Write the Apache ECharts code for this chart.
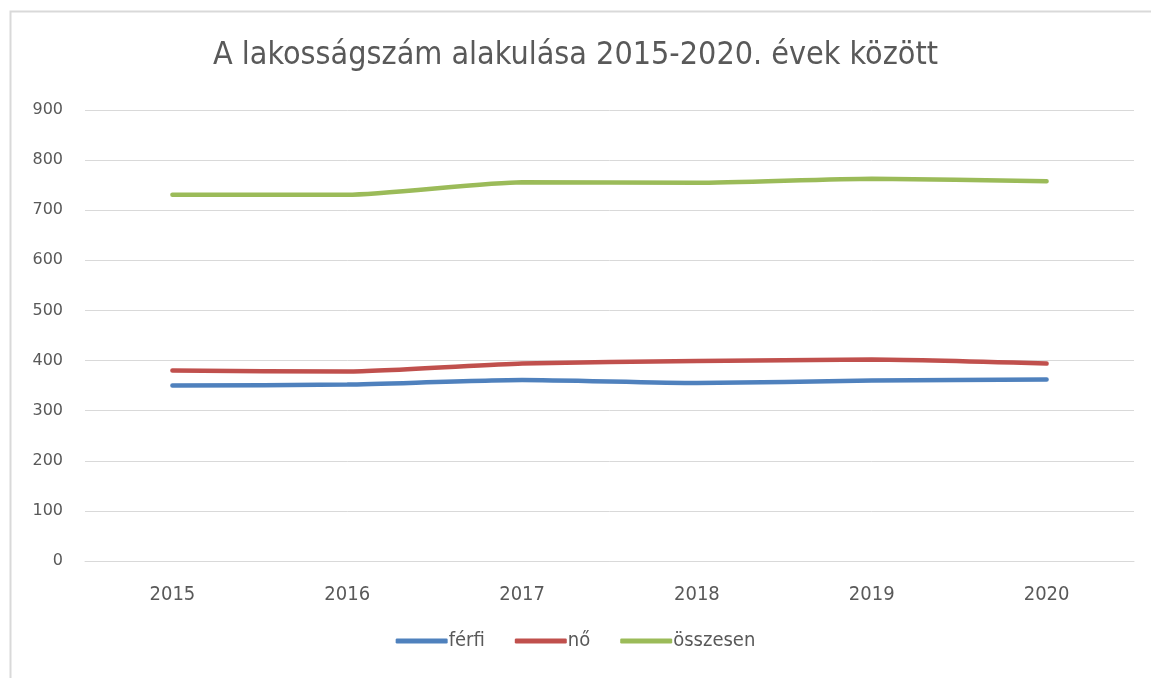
<!DOCTYPE html>
<html>
<head>
<meta charset="utf-8">
<script src="https://cdn.jsdelivr.net/npm/echarts@6/dist/echarts.min.js"></script>
<style>
html,body{margin:0;padding:0;background:#fff;}
#chart{width:1151px;height:678px;}
</style>
</head>
<body>
<div id="chart"></div>
<script>
var categories = ['2015','2016','2017','2018','2019','2020'];
var ferfi = [350, 352, 361, 355, 360, 362];
var no = [380, 378, 394, 399, 402, 394];
var osszesen = [731, 731, 756, 755, 763, 758];
var seriesNames = ['férfi', 'nő', 'összesen'];
var yTicks = {min: 0, max: 900, interval: 100};

var FONT = '"DejaVu Sans Condensed", "Liberation Sans", sans-serif';
var chart = echarts.init(document.getElementById('chart'));
chart.setOption({
  animation: false,
  backgroundColor: '#fff',
  graphic: [{
    type: 'rect', left: 8, top: 9, silent: true,
    shape: {x: 0, y: 0, width: 1200, height: 700},
    style: {fill: 'none', stroke: '#d9d9d9', lineWidth: 2}
  }],
  title: {
    text: 'A lakosságszám alakulása 2015-2020. évek között',
    left: 'center', top: 35,
    textStyle: {fontFamily: FONT, fontSize: 32, fontWeight: 'normal', color: '#595959'}
  },
  grid: {left: 85, right: 17, top: 110, bottom: 117},
  legend: {
    bottom: 22, left: 'center',
    itemWidth: 52, itemHeight: 5, itemGap: 30,
    icon: 'roundRect',
    textStyle: {fontFamily: FONT, fontSize: 20, color: '#595959', padding: [0, 0, 0, -4]},
    data: seriesNames
  },
  xAxis: {
    type: 'category', data: categories, boundaryGap: true,
    axisLine: {lineStyle: {color: '#d9d9d9', width: 1}},
    axisTick: {show: false},
    axisLabel: {fontFamily: FONT, fontSize: 20, color: '#595959', margin: 24}
  },
  yAxis: {
    type: 'value', min: yTicks.min, max: yTicks.max, interval: yTicks.interval,
    axisLine: {show: false}, axisTick: {show: false},
    splitLine: {lineStyle: {color: '#d9d9d9', width: 1}},
    axisLabel: {fontFamily: '"DejaVu Sans", sans-serif', fontSize: 16, color: '#595959', margin: 22}
  },
  series: [
    {name: seriesNames[0], type: 'line', data: ferfi, smooth: 0.2, symbol: 'none',
     lineStyle: {width: 4.5, color: '#4f81bd', cap: 'round'}, itemStyle: {color: '#4f81bd'}},
    {name: seriesNames[1], type: 'line', data: no, smooth: 0.2, symbol: 'none',
     lineStyle: {width: 4.5, color: '#c0504d', cap: 'round'}, itemStyle: {color: '#c0504d'}},
    {name: seriesNames[2], type: 'line', data: osszesen, smooth: 0.2, symbol: 'none',
     lineStyle: {width: 4.5, color: '#9bbb59', cap: 'round'}, itemStyle: {color: '#9bbb59'}}
  ]
});
</script>
</body>
</html>
